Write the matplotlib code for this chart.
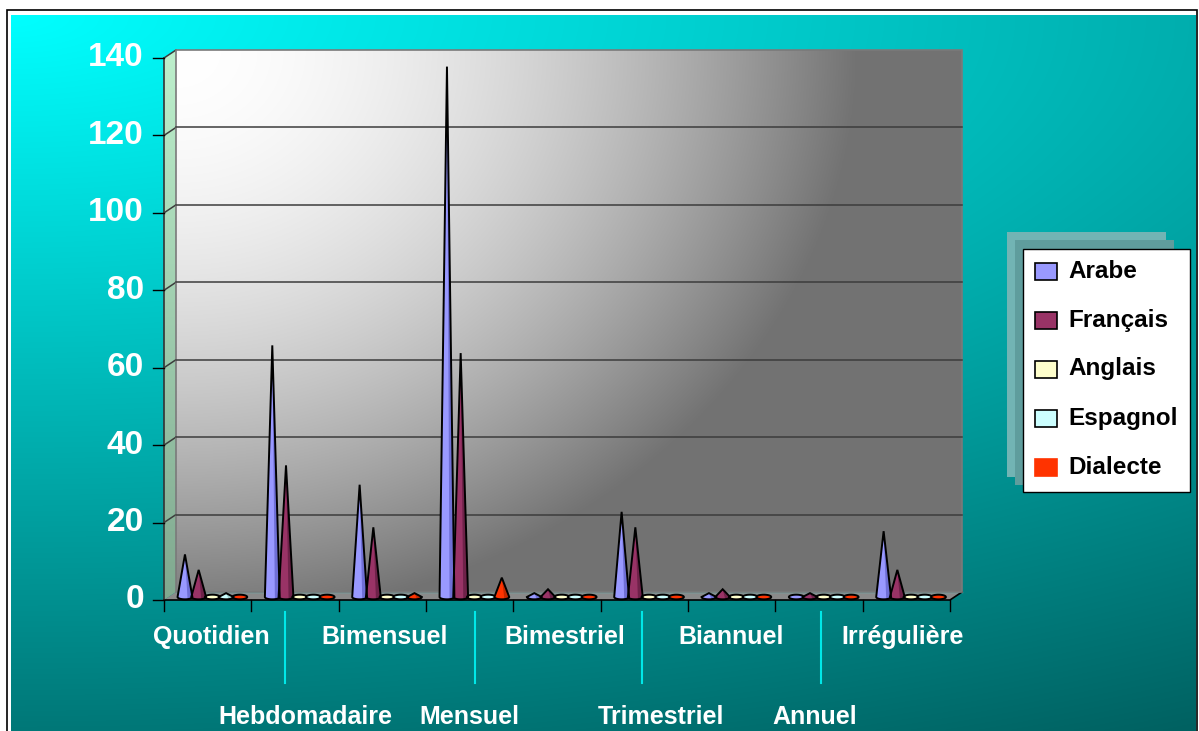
import numpy as np
import matplotlib
matplotlib.use("Agg")
import matplotlib.pyplot as plt
import matplotlib.transforms as mtransforms
from matplotlib.patches import Polygon, Rectangle

plt.rcParams['font.family'] = ['Liberation Sans', 'DejaVu Sans']

### Data: number of titles per periodicity and language

categories = ['Quotidien', 'Hebdomadaire', 'Bimensuel', 'Mensuel', 'Bimestriel',
              'Trimestriel', 'Biannuel', 'Annuel', 'Irrégulière']
langues = ['Arabe', 'Français', 'Anglais', 'Espagnol', 'Dialecte']
arabe = [11, 65, 29, 137, 1, 22, 1, 0, 17]
francais = [7, 34, 18, 63, 2, 18, 2, 1, 7]
anglais = [0, 0, 0, 0, 0, 0, 0, 0, 0]
espagnol = [1, 0, 0, 0, 0, 0, 0, 0, 0]
dialecte = [0, 0, 1, 5, 0, 0, 0, 0, 0]
series = [arabe, francais, anglais, espagnol, dialecte]
y_ticks = [0, 20, 40, 60, 80, 100, 120, 140]

colours = ['#9999ff', '#993366', '#ffffcc', '#ccffff', '#ff3300']
shades = ['#6f6fd6', '#6e2249', '#d4d4a0', '#9fd2d2', '#c42800']

# Layout of the category labels (x in category units) and their separators
label_x = [0.54, 1.62, 2.52, 3.5, 4.59, 5.69, 6.49, 7.45, 8.46]
separator_x = [1.39, 3.56, 5.47, 7.52]

W, H = 1199, 731
DEPTH_X, DEPTH_Y = 12, 8   # pixel offset of the back wall


def cone_outline(xc, v, hw, eh, n=20):
   """
   Side silhouette of a cone standing on the floor, with the front half
   of its base ellipse.
   """
   t = np.linspace(0, np.pi, n)
   arc_x = xc + hw * np.cos(t)
   arc_y = -eh * np.sin(t)
   xs = np.concatenate([[xc - hw, xc], arc_x])
   ys = np.concatenate([[0, v], arc_y])
   return np.column_stack([xs, ys])


def flat_base(xc, hw, eh, n=30):
   t = np.linspace(0, 2 * np.pi, n)
   return np.column_stack([xc + hw * np.cos(t), eh * np.sin(t)])


fig = plt.figure(figsize=(W / 100, H / 100), dpi=100)
fig.patch.set_facecolor('white')

# Full-figure layer in pixel coordinates, for the frame and decorations
bg = fig.add_axes([0, 0, 1, 1], zorder=0)
bg.set_xlim(0, W)
bg.set_ylim(H, 0)
bg.axis('off')

bg.add_patch(Rectangle((7, 10), W - 9, H - 8, facecolor='white',
                       edgecolor='black', lw=1.2))
gx, gy = np.meshgrid(np.linspace(0, 1, 400), np.linspace(0, 1, 250))
t = np.sqrt((0.6 * gx) ** 2 + gy ** 2) / np.sqrt(1.36)
g = 1 - 0.62 * t
teal = np.dstack([np.zeros_like(g), g, g])
bg.imshow(teal, extent=(11, W - 3, H, 15), origin='upper', aspect='auto',
          interpolation='bilinear', zorder=1)

# Plot area: front plane of the 3D box
x0, x1, ytop, ybot = 164, 950, 58, 600
ax = fig.add_axes([x0 / W, 1 - ybot / H, (x1 - x0) / W, (ybot - ytop) / H],
                  zorder=2)
ax.set_xlim(0, len(categories))
ax.set_ylim(0, 140)
ax.axis('off')
ax.patch.set_alpha(0)

back = mtransforms.offset_copy(ax.transData, fig=fig, x=DEPTH_X, y=DEPTH_Y,
                               units='dots')
mid = mtransforms.offset_copy(ax.transData, fig=fig, x=0, y=3, units='dots')
to_bg = ax.transData + bg.transData.inverted()
back_to_bg = back + bg.transData.inverted()

# Back wall with its corner gradient
wx, wy = np.meshgrid(np.linspace(0, 1, 300), np.linspace(0, 1, 220))
r = np.sqrt((1.1 * wx) ** 2 + (0.9 * wy) ** 2)
wall = np.clip(1 - 0.6 * r ** 1.8, 0.45, 1)
ax.imshow(np.dstack([wall, wall, wall]), extent=(0, len(categories), 0, 140),
          origin='upper', aspect='auto', transform=back, clip_on=False,
          interpolation='bilinear', zorder=0)
ax.add_patch(Rectangle((0, 0), len(categories), 140, transform=back,
                       fill=False, edgecolor='#7a7a7a', lw=1.2, clip_on=False,
                       zorder=1))

# Left side wall
fl = to_bg.transform([(0, 140), (0, 0)])
bl = back_to_bg.transform([(0, 140), (0, 0)])
side = Polygon([fl[0], bl[0], bl[1], fl[1]], closed=True, facecolor='none',
               edgecolor='none', zorder=2)
bg.add_patch(side)
green = np.dstack([np.linspace(0.74, 0.50, 200), np.linspace(0.94, 0.66, 200),
                   np.linspace(0.80, 0.56, 200)]).reshape(200, 1, 3)
im = bg.imshow(green, extent=(fl[0][0], bl[0][0], fl[1][1], bl[0][1]),
               origin='upper', aspect='auto', zorder=2)
im.set_clip_path(side)

# Floor
ff = to_bg.transform([(0, 0), (len(categories), 0)])
bf = back_to_bg.transform([(0, 0), (len(categories), 0)])
bg.add_patch(Polygon([ff[0], bf[0], bf[1], ff[1]], closed=True,
                     facecolor='#8a8a8a', edgecolor='none', zorder=2))
bg.plot([bf[0][0], bf[1][0]], [bf[0][1], bf[1][1]], color='#5fb5b5', lw=1,
        zorder=2)
bg.plot([ff[0][0], ff[1][0], bf[1][0]], [ff[0][1], ff[1][1], bf[1][1]],
        color='black', lw=1.2, zorder=3)
bg.plot([fl[0][0], fl[1][0]], [fl[0][1], fl[1][1]], color='#333333', lw=1.2,
        zorder=3)

# Grid lines on the back and side walls, y ticks and labels
tick_tf = mtransforms.blended_transform_factory(bg.transData, ax.transData)
for v in y_ticks:
   if 0 < v < 140:
      ax.plot([0, len(categories)], [v, v], transform=back, color='#3c3c3c',
              lw=1.1, clip_on=False, zorder=1)
   if v > 0:
      a = to_bg.transform((0, v))
      b = back_to_bg.transform((0, v))
      bg.plot([a[0], b[0]], [a[1], b[1]], color='#3c3c3c', lw=1.1, zorder=3)
   ax.plot([153, 164], [v, v], transform=tick_tf, color='black', lw=1,
           clip_on=False)
   ax.text(144, v, str(v), transform=tick_tf, ha='right', va='center',
           color='white', fontsize=24, fontweight='bold')

# Category ticks and labels, alternating on two rows
cat_tf = mtransforms.blended_transform_factory(ax.transData, bg.transData)
for i in range(len(categories) + 1):
   ax.plot([i, i], [600, 611], transform=cat_tf, color='black', lw=1,
           clip_on=False)
for i, name in enumerate(categories):
   row_y = 637 if i % 2 == 0 else 717
   ax.text(label_x[i], row_y, name, transform=cat_tf, ha='center',
           va='center', color='white', fontsize=18, fontweight='bold')
for sx in separator_x:
   ax.plot([sx, sx], [612, 683], transform=cat_tf, color='#00e8e8', lw=1.5,
           clip_on=False)

# Cones
hw, eh = 0.085, 0.6
for i in range(len(categories)):
   for j, values in enumerate(series):
      xc = i + 0.24 + j * 0.157
      v = values[i]
      if v > 0:
         ax.add_patch(Polygon(cone_outline(xc, v, hw, eh), closed=True,
                              facecolor=colours[j], edgecolor='none',
                              transform=mid, clip_on=False, zorder=5))
         ax.add_patch(Polygon([(xc + 0.35 * hw, -eh), (xc, v), (xc + hw, 0)],
                              closed=True, facecolor=shades[j],
                              edgecolor='none', transform=mid, clip_on=False,
                              zorder=5))
         ax.add_patch(Polygon(cone_outline(xc, v, hw, eh), closed=True,
                              fill=False, edgecolor='black', lw=1.4,
                              transform=mid, clip_on=False, zorder=6))
      else:
         ax.add_patch(Polygon(flat_base(xc, hw, eh), closed=True,
                              facecolor=colours[j], edgecolor='black', lw=1.4,
                              transform=mid, clip_on=False, zorder=5))

# Legend with its stacked shadows
bg.add_patch(Rectangle((1007, 232), 159, 245, facecolor='#72b4b4',
                       edgecolor='none', zorder=4))
bg.add_patch(Rectangle((1015, 240), 159, 245, facecolor='#5f9d9d',
                       edgecolor='none', zorder=4))
bg.add_patch(Rectangle((1023, 249), 167, 243, facecolor='white',
                       edgecolor='black', lw=1, zorder=4))
for k, name in enumerate(langues):
   yc = 271 + k * 49
   bg.add_patch(Rectangle((1035, yc - 8.5), 22, 17, facecolor=colours[k],
                          edgecolor='black' if k < 4 else colours[k], lw=1.2,
                          zorder=5))
   bg.text(1068, yc, name, ha='left', va='center', fontsize=17.5,
           fontweight='bold', color='black', zorder=5)

fig.savefig('out.png', dpi=100)
